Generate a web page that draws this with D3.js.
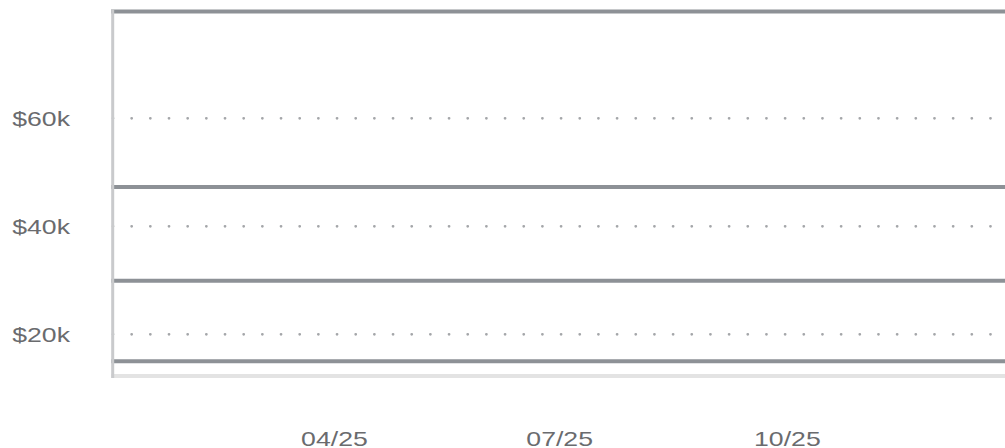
<!DOCTYPE html>
<html>
<head>
<meta charset="utf-8">
<script src="https://cdn.jsdelivr.net/npm/d3@7"></script>
<style>
  html, body { margin: 0; padding: 0; background: #fff; overflow: hidden; }
  text { font-family: "Liberation Sans", Arial, sans-serif; fill: #6a6b6e; }
</style>
</head>
<body>
<div id="chart"></div>
<script>
// months of 2025 (plus the closing point)
const months = ["2025-01-01","2025-02-01","2025-03-01","2025-04-01","2025-05-01","2025-06-01",
  "2025-07-01","2025-08-01","2025-09-01","2025-10-01","2025-11-01","2025-12-01","2026-01-01"];

const tierTop  = [79800,79800,79800,79800,79800,79800,79800,79800,79800,79800,79800,79800,79800];
const tierHigh = [47300,47300,47300,47300,47300,47300,47300,47300,47300,47300,47300,47300,47300];
const tierMid  = [29900,29900,29900,29900,29900,29900,29900,29900,29900,29900,29900,29900,29900];
const tierLow  = [15000,15000,15000,15000,15000,15000,15000,15000,15000,15000,15000,15000,15000];

const yTicks = [20000, 40000, 60000];
const xTicks = ["2025-04-01","2025-07-01","2025-10-01"];

const width = 1005, height = 448;
const plotLeft = 111.2, plotBottom = 376;
const stretch = 1.333;

const parse = d3.timeParse("%Y-%m-%d");
const dates = months.map(parse);

const x = d3.scaleTime()
  .domain([dates[0], dates[dates.length-1]])
  .range([plotLeft, plotLeft + 365*2.475]);

// y(0) sits below the plot; the plot floor is at ~12.3k
const y = d3.scaleLinear()
  .domain([0, 80000])
  .range([442.3, 442.3 - 80*5.4]);

const svg = d3.select("#chart").append("svg")
  .attr("width", width).attr("height", height);

// dotted gridlines
svg.append("g").selectAll("line")
  .data(yTicks)
  .enter().append("line")
  .attr("x1", plotLeft + 1.8).attr("x2", width)
  .attr("y1", d=>y(d)).attr("y2", d=>y(d))
  .attr("stroke", "#a4a6a9")
  .attr("stroke-width", 2.8)
  .attr("stroke-linecap", "round")
  .attr("stroke-dasharray", "0,18.67");

// bottom baseline
svg.append("line")
  .attr("x1", plotLeft).attr("x2", width)
  .attr("y1", plotBottom).attr("y2", plotBottom)
  .attr("stroke", "#e3e3e3").attr("stroke-width", 4);

// series lines
const series = [tierTop, tierHigh, tierMid, tierLow];
const line = d3.line()
  .x((d,i)=>x(dates[i]))
  .y(d=>y(d));

svg.append("g").selectAll("path")
  .data(series)
  .enter().append("path")
  .attr("d", line)
  .attr("fill", "none")
  .attr("stroke", "#8d9196")
  .attr("stroke-width", 4);

// y axis line
svg.append("line")
  .attr("x1", plotLeft + 1.5).attr("x2", plotLeft + 1.5)
  .attr("y1", 9).attr("y2", 378)
  .attr("stroke", "#c9cacc").attr("stroke-width", 3);

// y labels
const yAxis = svg.append("g")
  .call(d3.axisLeft(y).tickValues(yTicks).tickSize(0)
    .tickFormat(d=>"$" + (d/1000) + "k"));
yAxis.select(".domain").remove();
yAxis.selectAll("text")
  .attr("x", 70/stretch)
  .attr("dy", "0.38em")
  .attr("transform", `scale(${stretch},1)`)
  .style("font-size", "20px")
  .style("fill", "#6a6b6e")
  .attr("text-anchor", "end");

// x labels
const fmt = d3.timeFormat("%m/%y");
const xAxis = svg.append("g")
  .attr("transform", `translate(0,${445.5})`)
  .call(d3.axisBottom(x).tickValues(xTicks.map(parse)).tickSize(0).tickFormat(fmt));
xAxis.select(".domain").remove();
xAxis.selectAll("text")
  .attr("y", 0).attr("dy", 0)
  .attr("transform", `scale(${stretch},1)`)
  .style("font-size", "20px")
  .style("fill", "#6a6b6e");
</script>
</body>
</html>
